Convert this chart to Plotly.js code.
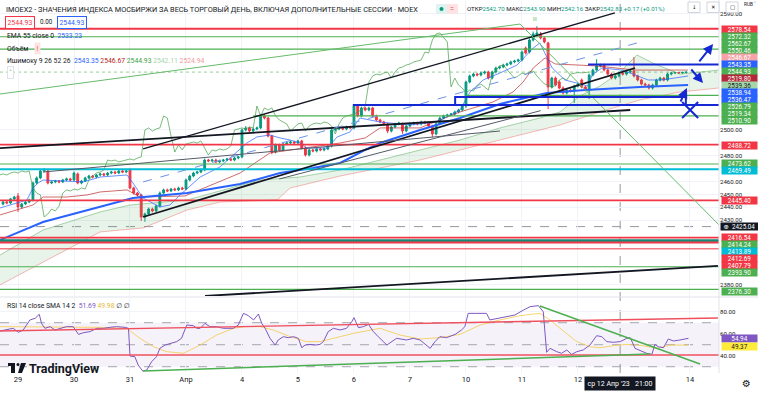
<!DOCTYPE html>
<html><head><meta charset="utf-8">
<script src="https://cdn.plot.ly/plotly-3.0.1.min.js"></script>
<style>html,body{margin:0;padding:0;background:#fff;}#chart{width:758px;height:394px;}</style>
</head><body><div id="chart"></div>
<script>
// ---------------- DATA ----------------
const dayTickIdx = [0,15,30,45,60,75,90,105,120,135,150,180];
const dayLabels = ['29','30','31','Апр','4','5','6','7','10','11','12','14'];
const firstBar = -4;
const openP = [
2442.6,2444.1,2443.4,2446.5,
2448.8,2440.3,2442.6,2444.1,2445.7,2458.9,2462.8,2468.2,2468.2,2458.9,
2459.7,2460.4,2459.7,2461.2,2462.0,2461.2,2465.9,2458.9,2460.4,2462.8,
2464.3,2463.5,2465.1,2465.9,2465.1,2466.6,2467.4,2466.6,2468.2,2467.4,
2469.0,2455.0,2451.1,2449.6,2432.5,2434.8,2438.7,2437.2,2441.0,2451.1,
2453.5,2452.7,2454.2,2453.5,2455.0,2454.2,2461.2,2464.3,2466.6,2467.4,
2469.0,2476.7,2476.0,2476.7,2475.2,2476.0,2476.7,2477.5,2476.7,2478.3,
2479.1,2500.0,2501.6,2499.2,2500.8,2501.6,2510.9,2509.3,2495.3,2482.9,
2488.4,2484.5,2489.1,2489.9,2490.7,2489.9,2491.5,2486.0,2480.6,2484.5,
2483.7,2485.3,2484.5,2485.3,2487.6,2500.0,2500.8,2501.6,2500.8,2502.3,
2501.6,2518.6,2510.9,2517.1,2515.5,2517.1,2510.9,2507.8,2506.2,2504.7,
2499.2,2502.3,2504.7,2504.7,2499.2,2503.1,2504.7,2505.4,2504.7,2506.2,
2505.4,2503.1,2496.9,2504.7,2509.3,2510.9,2511.6,2512.4,2514.0,2515.5,
2518.6,2537.2,2541.9,2543.4,2542.7,2544.2,2545.0,2540.3,2545.0,2548.1,
2548.9,2550.4,2551.2,2552.8,2553.5,2554.3,2563.6,2560.5,2569.8,2573.7,
2574.5,2571.4,2567.5,2533.4,2540.3,2537.2,2532.6,2528.7,2531.0,2530.3,
2534.1,2538.8,2533.4,2531.0,2542.7,2546.5,2549.7,2550.4,2546.5,2543.4,
2540.3,2541.9,2544.2,2543.4,2545.0,2545.8,2541.9,2538.8,2535.7,2534.9,
2532.6,2534.9,2538.8,2540.3,2538.8,2543.4,2544.2,2544.6,2544.3,2544.7];
const highP = [
2445.0,2445.0,2447.3,2449.0,
2451.1,2443.5,2445.0,2446.6,2460.0,2464.0,2469.5,2470.5,2469.4,2460.6,
2461.3,2461.2,2462.1,2463.0,2462.9,2467.8,2467.0,2461.3,2463.7,2465.2,
2465.1,2466.0,2466.8,2466.8,2467.5,2468.3,2468.3,2469.1,2469.1,2469.0,
2470.3,2456.0,2452.0,2450.5,2435.8,2439.8,2439.8,2442.0,2452.3,2454.5,
2454.5,2455.1,2455.2,2456.0,2456.0,2462.3,2465.3,2467.6,2468.4,2470.0,
2477.8,2477.6,2477.7,2477.7,2476.9,2477.6,2478.4,2478.4,2479.2,2480.0,
2501.1,2503.0,2502.5,2501.8,2502.6,2512.0,2512.3,2510.4,2496.3,2489.5,
2489.4,2490.2,2490.9,2491.8,2491.6,2492.5,2492.4,2487.0,2485.6,2485.4,
2486.3,2486.2,2486.2,2488.6,2501.2,2501.8,2502.6,2502.5,2503.3,2503.2,
2519.7,2520.0,2518.2,2518.0,2518.1,2518.0,2511.9,2508.7,2507.1,2505.6,
2503.3,2505.6,2506.4,2505.7,2504.0,2505.7,2506.4,2506.3,2507.2,2507.1,
2506.3,2504.0,2505.8,2510.3,2511.9,2512.6,2513.3,2515.0,2516.5,2519.6,
2538.3,2543.0,2544.5,2544.4,2545.2,2546.0,2546.0,2546.0,2549.1,2549.9,
2551.4,2552.2,2553.8,2554.5,2555.3,2561.6,2564.8,2571.0,2576.4,2580.5,
2576.0,2572.4,2568.5,2541.2,2541.5,2538.5,2533.8,2532.0,2532.1,2535.1,
2536.7,2539.9,2534.4,2543.8,2547.6,2555.0,2551.5,2551.4,2547.5,2544.5,
2542.9,2545.2,2545.2,2546.0,2546.7,2556.6,2542.9,2539.8,2536.7,2535.9,
2535.9,2539.8,2541.3,2541.2,2544.4,2545.1,2545.2,2545.1,2545.2,2545.3];
const lowP = [
2441.5,2442.4,2442.5,2445.6,
2436.4,2439.2,2441.7,2443.2,2444.6,2457.8,2461.8,2467.1,2457.8,2458.0,
2458.7,2458.7,2458.8,2460.2,2460.3,2460.1,2457.9,2457.9,2459.5,2461.9,
2462.6,2462.6,2464.2,2464.2,2464.2,2465.7,2465.7,2465.7,2466.5,2466.5,
2453.8,2450.0,2448.4,2429.4,2428.8,2433.8,2436.1,2436.3,2440.0,2450.2,
2451.8,2451.8,2452.6,2452.6,2453.3,2453.3,2460.2,2463.3,2465.6,2466.5,
2468.0,2475.0,2475.1,2474.3,2474.3,2475.0,2475.8,2475.8,2475.8,2477.3,
2478.0,2498.9,2498.0,2498.2,2499.8,2500.6,2508.2,2494.3,2481.2,2481.8,
2483.4,2483.5,2488.1,2488.9,2488.9,2488.8,2485.0,2479.4,2479.5,2482.7,
2482.6,2483.5,2483.5,2484.3,2486.5,2498.9,2499.8,2499.8,2499.8,2500.6,
2500.5,2509.8,2509.9,2514.5,2514.5,2509.8,2506.8,2505.2,2503.6,2497.5,
2498.1,2501.3,2503.6,2497.0,2498.2,2502.1,2503.6,2503.6,2503.6,2504.4,
2502.0,2494.5,2495.8,2503.7,2508.3,2509.9,2510.6,2511.4,2513.0,2514.5,
2517.0,2536.2,2540.8,2541.6,2541.6,2543.1,2539.2,2539.2,2544.0,2547.1,
2547.9,2549.4,2550.2,2551.8,2552.5,2553.2,2558.6,2559.4,2568.7,2572.6,
2570.3,2567.2,2516.3,2532.3,2533.8,2531.5,2527.6,2527.6,2529.2,2521.0,
2533.0,2532.3,2529.9,2524.0,2541.6,2545.4,2548.6,2545.4,2542.3,2539.2,
2539.2,2540.8,2542.3,2542.3,2544.0,2540.8,2537.7,2534.6,2533.8,2531.5,
2531.4,2533.8,2537.7,2537.7,2537.7,2542.3,2543.4,2543.5,2543.5,2543.9];
const closeP = [
2444.1,2443.4,2446.5,2448.0,
2440.3,2442.6,2444.1,2445.7,2458.9,2462.8,2468.2,2469.0,2458.9,2459.7,
2460.4,2459.7,2461.2,2462.0,2461.2,2466.6,2458.9,2460.4,2462.8,2464.3,
2463.5,2465.1,2465.9,2465.1,2466.6,2467.4,2466.6,2468.2,2467.4,2468.2,
2455.0,2451.1,2449.6,2432.5,2434.8,2438.7,2437.2,2441.0,2451.1,2453.5,
2452.7,2454.2,2453.5,2455.0,2454.2,2461.2,2464.3,2466.6,2467.4,2469.0,
2476.7,2476.0,2476.7,2475.2,2476.0,2476.7,2477.5,2476.7,2478.3,2479.1,
2500.0,2501.6,2499.2,2500.8,2501.6,2510.9,2509.3,2495.3,2482.9,2488.4,
2484.5,2489.1,2489.9,2490.7,2489.9,2491.5,2486.0,2480.6,2484.5,2483.7,
2485.3,2484.5,2485.3,2487.6,2500.0,2500.8,2501.6,2500.8,2502.3,2501.6,
2518.6,2510.9,2517.1,2515.5,2517.1,2510.9,2507.8,2506.2,2504.7,2499.2,
2502.3,2504.7,2505.4,2499.2,2503.1,2504.7,2505.4,2504.7,2506.2,2505.4,
2503.1,2496.9,2504.7,2509.3,2510.9,2511.6,2512.4,2514.0,2515.5,2518.6,
2537.2,2541.9,2543.4,2542.7,2544.2,2545.0,2540.3,2545.0,2548.1,2548.9,
2550.4,2551.2,2552.8,2553.5,2554.3,2560.5,2559.7,2569.8,2574.5,2575.3,
2571.4,2568.3,2533.4,2540.3,2534.9,2532.6,2528.7,2531.0,2530.3,2534.1,
2535.7,2533.4,2531.0,2542.7,2546.5,2549.7,2550.4,2546.5,2543.4,2540.3,
2541.9,2544.2,2543.4,2545.0,2545.8,2541.9,2538.8,2535.7,2534.9,2532.6,
2534.9,2538.8,2540.3,2538.8,2543.4,2544.2,2544.6,2544.3,2544.7,2544.9];

const emaX = [-4.8,6.7,30.8,45.3,59.5,70.2,79.0,86.3,93.0,97.0,107.7,118.4,129.1,141.7,151.9,166.6,179.5];
const emaV = [2414.7,2428.6,2447.2,2451.1,2458.1,2466.6,2470.5,2474.4,2484.5,2489.9,2500.0,2509.3,2520.2,2528.7,2531.0,2533.4,2534.9];
const tenkanX = [-4.8,-2.1,2.4,4.0,5.4,6.7,17.4,22.0,29.2,30.8,33.5,38.0,40.7,43.4,48.8,54.1,61.3,64.0,67.5,70.2,72.9,75.5,77.4,82.8,85.5,88.9,91.6,97.0,105.0,112.2,115.7,118.4,121.1,124.6,129.1,133.7,138.0,139.8,143.1,146.5,152.7,153.8,156.4,161.8,165.3,168.8,172.5,179.5];
const tenkanV = [2439.5,2441.8,2445.7,2455.0,2458.9,2461.2,2459.7,2463.5,2465.1,2458.9,2447.2,2440.3,2441.8,2449.6,2463.5,2471.3,2489.9,2494.6,2496.1,2493.8,2492.2,2489.9,2486.0,2486.0,2494.6,2498.4,2509.3,2506.2,2503.9,2506.2,2511.6,2515.5,2529.5,2538.8,2544.2,2550.4,2563.6,2567.5,2548.1,2538.8,2534.1,2542.7,2548.1,2546.5,2542.7,2538.8,2538.8,2541.9];
const kijunX = [-4.8,-0.3,4.0,6.7,13.1,18.5,22.0,29.2,32.7,44.7,59.5,67.5,72.9,86.3,93.0,97.0,107.7,118.4,127.2,132.6,135.3,138.0,141.2,143.9,155.0,165.3,179.5];
const kijunV = [2434.1,2437.9,2441.8,2448.0,2448.0,2449.6,2451.9,2453.5,2448.0,2448.8,2466.6,2482.2,2484.5,2489.9,2493.8,2501.6,2501.6,2514.0,2521.7,2529.5,2537.2,2548.1,2555.9,2551.2,2549.7,2546.5,2546.5];
const senkouAX = [-4.8,6.7,22.0,30.0,45.3,56.8,64.8,75.5,86.3,97.0,107.7,118.4,129.1,139.8,145.2,150.5,155.9,161.3,165.8,170.6,177.3,187.8];
const senkouAV = [2403.0,2422.4,2436.4,2441.8,2445.7,2455.0,2461.2,2463.5,2469.0,2476.7,2484.5,2492.2,2501.6,2509.3,2514.0,2526.4,2534.1,2545.0,2558.2,2551.2,2543.4,2546.5];
const senkouBX = [-4.8,6.7,22.0,33.5,45.3,54.1,69.4,72.9,86.3,97.0,107.7,118.4,129.1,139.8,145.2,155.9,166.6,177.3,187.8];
const senkouBV = [2379.8,2397.6,2420.9,2424.0,2437.9,2444.1,2445.7,2455.0,2464.3,2470.5,2476.7,2484.5,2492.2,2500.0,2503.9,2514.0,2523.3,2529.5,2532.6];

const rsiX = [-4.8,-3.0,-1.3,0.1,1.4,3.2,4.6,5.7,6.3,7.2,8.6,9.9,11.2,13.0,14.8,16.2,17.5,19.3,21.1,22.9,24.6,26.4,28.7,29.6,30.0,31.3,32.2,33.4,34.5,35.8,37.1,38.0,39.4,40.7,42.5,43.8,44.7,45.2,47.0,47.9,48.8,50.1,51.4,53.2,55.0,57.7,59.0,60.4,61.7,63.1,64.4,65.3,66.2,67.5,68.9,69.7,71.1,72.4,73.8,75.1,76.0,76.9,78.2,79.6,80.9,81.8,83.1,84.5,86.3,88.0,89.4,90.0,91.2,92.5,93.9,95.2,96.5,
98.8,101.4,104.1,105.9,107.7,110.4,111.7,113.0,114.8,117.1,118.8,119.7,120.6,122.9,125.5,126.4,127.8,129.1,130.9,133.1,135.4,137.2,139.4,140.7,141.6,142.5,144.3,145.6,147.0,148.3,149.7,151.4,153.2,155.0,156.4,157.7,159.5,161.3,163.1,164.0,165.3,167.1,168.4,169.8,170.6,171.5,172.9,174.2,175.6,177.3,179.6];
const rsiV = [62.5,63.4,64.9,61.3,63.4,72.5,74.0,77.6,69.4,64.9,66.4,63.4,64.9,66.4,66.4,59.4,60.9,61.9,64.9,64.9,65.8,66.4,65.8,64.9,39.7,39.1,31.5,26.1,27.0,34.6,39.1,46.7,49.7,51.2,52.8,55.8,64.9,67.9,67.3,64.9,64.9,69.4,66.4,66.4,64.9,64.9,67.9,78.5,76.4,72.5,77.9,69.4,64.9,55.8,49.7,54.3,57.3,56.4,57.3,55.8,47.3,49.7,50.3,49.7,50.3,52.8,61.9,64.9,63.4,64.9,70.9,74.6,65.5,66.4,68.5,61.9,57.3,
49.7,55.8,54.3,55.8,54.3,46.7,52.8,57.3,56.4,59.4,63.4,66.4,78.5,78.5,78.5,72.5,73.4,74.0,75.5,77.0,81.5,84.6,85.5,80.0,43.1,46.7,43.7,42.2,45.2,41.2,43.7,45.2,49.7,58.2,57.3,52.8,52.2,52.8,55.8,56.4,46.7,43.7,42.2,41.2,50.3,48.2,47.3,55.2,53.4,54.3,55.8];
const smaX = [-4.8,4.1,13.0,21.9,29.1,32.7,36.3,39.8,44.3,48.8,53.2,57.7,60.8,64.8,68.4,72.9,77.3,80.9,84.5,89.8,97.0,102.3,107.7,113.0,118.4,123.8,129.1,134.5,139.8,142.5,145.2,149.7,153.2,155.9,159.5,163.1,167.5,171.1,174.7,179.6];
const smaV = [66.4,66.4,66.4,65.8,64.9,55.8,48.2,43.7,42.2,49.7,58.8,64.9,66.4,66.4,63.4,57.3,52.8,52.8,55.8,60.3,64.9,58.8,55.2,56.4,59.4,67.9,72.5,76.4,78.5,72.5,64.9,52.8,48.2,47.3,49.1,50.3,49.1,46.7,49.7,49.7];

// horizontal levels
const levelsRed = [2578.54, 2488.72, 2445.40, 2416.54, 2412.69, 2407.79];
const levelsGreen = [2572.32, 2562.67, 2473.62, 2393.90, 2376.30];
const levelsTeal = [2414.24];
const levelsCyan = [2469.49, 2413.89];
const partialGreen = [[120, 2526.79], [63, 2510.90], [89.7, 2519.34]];
const lastPrice = 2544.93;
const crossPrice = 2425.04, crossBar = 161.3;
// drawings [x0, y0, x1, y1]
const blackLines = [[-4.82,2486.0,164.0,2515.5],[33.5,2485.3,159.9,2590.8],[33.5,2432.5,165.3,2548.1],[50.1,2371.2,187.5,2394.5]];
const grayLines = [[6.7,2467.4,129.1,2499.2],[70,2462.0,140,2515.0]];
const greenPolyX = [-4.82,134.5,187.8];
const greenPolyY = [2527.9,2582.2,2426.3];
const dashedBlue = [33.5,2459.7,165.8,2567.5];
const blueHLines = [[152.7,187.8,2550.8],[89.7,187.8,2519.4]];
const blueRect = [117.1,178.9,2519.4,2525.6];
const blueArrows = [[182.2,2552.0,186.2,2566.7],[180.0,2548.1,183.5,2536.5],[177.3,2520.9,179.2,2532.6]];
const blueCross = [[177.9,2521.7,182.2,2509.3],[182.2,2521.7,177.9,2509.3]];
const rsiRedLine = [-4.82,62.5,187.5,74.3];
const rsiRedLevel = 40.6;
const rsiGreenLines = [[33.5,26.1,169.3,41.5],[139.8,85.2,182.7,32.5]];
const rsiBands = [30, 50, 70];

const priceTicks = [2590, 2500, 2480, 2460, 2450, 2440, 2430, 2380];
const rsiTicks = [40, 60, 80];
const tagTexts = ['2578.54','2572.32','2562.67','2550.46','2546.67','2543.35','2544.93','2519.80','2539.36','2538.94','2536.47','2526.79','2519.34','2510.90','2488.72','2473.62','2469.49','2445.40','⊕  2425.04','2416.54','2414.24','2413.89','2412.69','2407.79','2393.90','2376.30'];
const rsiTagTexts = ['54.94','49.37'];

// ---------------- STYLE / LAYOUT ----------------
const W = 758, H = 394;
const px = x => x / W, py = y => 1 - y / H;
const FF = 'Roboto, "Noto Sans", "DejaVu Sans", sans-serif';
const tagBg = ['#f23645','#4caf50','#4caf50','#4caf50','#f5a3a8','#2962ff','#4caf50','#b2283a','#a5d6a7','#2962ff','#2962ff','#4caf50','#4caf50','#4caf50','#f23645','#4caf50','#00bcd4','#f23645','#131722','#f23645','#4caf50','#00bcd4','#f23645','#f23645','#4caf50','#4caf50'];
const tagY = [29.5,36.8,43.8,50.8,57.8,64.8,71.8,78.8,85.8,92.8,99.8,107,114,121,145,163,170,200.7,226.3,237.2,244.2,251.2,258.5,265.5,272.5,291.2];
const rsiTagBg = ['#7e57c2','#ffeb3b'];
const rsiTagFg = ['#ffffff','#131722'];
const rsiTagY = [338,346];

const barIdx = [];
for (let k = 0; k < closeP.length; k++) barIdx.push(firstBar + k);
const chikouX = barIdx.map(v => v - 26);

const XR = [-4.822, 187.78];
const traces = [
  {x: senkouBX, y: senkouBV, type:'scatter', mode:'lines', line:{color:'rgba(239,83,80,0.4)', width:1}, xaxis:'x', yaxis:'y'},
  {x: senkouAX, y: senkouAV, type:'scatter', mode:'lines', fill:'tonexty', fillcolor:'rgba(67,160,71,0.12)', line:{color:'rgba(67,160,71,0.45)', width:1}, xaxis:'x', yaxis:'y'},
  {x: chikouX, y: closeP, type:'scatter', mode:'lines', line:{color:'rgba(67,160,71,0.7)', width:1}, xaxis:'x', yaxis:'y'},
  {x: kijunX, y: kijunV, type:'scatter', mode:'lines', line:{color:'rgba(183,28,28,0.65)', width:1}, xaxis:'x', yaxis:'y'},
  {type:'candlestick', x: barIdx, open: openP, high: highP, low: lowP, close: closeP, xaxis:'x', yaxis:'y',
   increasing:{line:{color:'#089981', width:1}, fillcolor:'#089981'},
   decreasing:{line:{color:'#f23645', width:1}, fillcolor:'#f23645'}, whiskerwidth:0},
  {x: emaX, y: emaV, type:'scatter', mode:'lines', line:{color:'#2962ff', width:2}, xaxis:'x', yaxis:'y'},
  {x: tenkanX, y: tenkanV, type:'scatter', mode:'lines', line:{color:'rgba(41,98,255,0.7)', width:1}, xaxis:'x', yaxis:'y'},
  {x: smaX, y: smaV, type:'scatter', mode:'lines', line:{color:'rgba(247,201,72,0.8)', width:1}, xaxis:'x2', yaxis:'y2'},
  {x: rsiX, y: rsiV, type:'scatter', mode:'lines', line:{color:'#7e57c2', width:1}, xaxis:'x2', yaxis:'y2'}
];

const shapes = [];
const hl = (y, color, width, dash) => shapes.push({type:'line', xref:'x domain', yref:'y', x0:0, x1:1, y0:y, y1:y, line:{color, width, dash: dash||'solid'}, layer:'above'});
shapes.push({type:'rect', xref:'x2 domain', yref:'y2', x0:0, x1:1, y0:rsiBands[0], y1:rsiBands[2], fillcolor:'rgba(126,87,194,0.08)', line:{width:0}, layer:'below'});
rsiBands.forEach(v => shapes.push({type:'line', xref:'x2 domain', yref:'y2', x0:0, x1:1, y0:v, y1:v, line:{color:'#a3a6af', width:1, dash:'dash'}, layer:'below'}));
shapes.push({type:'line', xref:'x', yref:'paper', x0:crossBar, x1:crossBar, y0:py(373), y1:1, line:{color:'#9598a1', width:1, dash:'dash'}, layer:'below'});
shapes.push({type:'line', xref:'x domain', yref:'y', x0:0, x1:1, y0:crossPrice, y1:crossPrice, line:{color:'#9598a1', width:1, dash:'dash'}, layer:'below'});
shapes.push({type:'line', xref:'x domain', yref:'y', x0:0, x1:1, y0:lastPrice, y1:lastPrice, line:{color:'rgba(76,175,80,0.6)', width:1, dash:'dot'}, layer:'below'});
levelsGreen.forEach(v => hl(v, '#4caf50', 1.2));
levelsCyan.forEach(v => hl(v, '#00bcd4', 2));
levelsTeal.forEach(v => hl(v, '#138a72', 2.5));
levelsRed.forEach((v, k) => hl(v, '#f23645', k === 5 ? 1 : 1.8));
partialGreen.forEach(p => shapes.push({type:'line', xref:'x', yref:'y', x0:p[0], x1:XR[1], y0:p[1], y1:p[1], line:{color:'#4caf50', width:1.2}, layer:'above'}));
blackLines.forEach((l, k) => shapes.push({type:'line', xref:'x', yref:'y', x0:l[0], y0:l[1], x1:l[2], y1:l[3], line:{color:'#131722', width: k === 1 ? 1.3 : 1.8}, layer:'above'}));
grayLines.forEach(l => shapes.push({type:'line', xref:'x', yref:'y', x0:l[0], y0:l[1], x1:l[2], y1:l[3], line:{color:'#555a66', width:1}, layer:'above'}));
shapes.push({type:'line', xref:'x', yref:'y', x0:dashedBlue[0], y0:dashedBlue[1], x1:dashedBlue[2], y1:dashedBlue[3], line:{color:'#6b93e8', width:1, dash:'dash'}, layer:'above'});
for (let k = 0; k < greenPolyX.length - 1; k++) shapes.push({type:'line', xref:'x', yref:'y', x0:greenPolyX[k], y0:greenPolyY[k], x1:greenPolyX[k+1], y1:greenPolyY[k+1], line:{color:'#66bb6a', width:1}, layer:'above'});
blueHLines.forEach(b => shapes.push({type:'line', xref:'x', yref:'y', x0:b[0], x1:b[1], y0:b[2], y1:b[2], line:{color:'#1428d4', width:2.2}, layer:'above'}));
shapes.push({type:'rect', xref:'x', yref:'y', x0:blueRect[0], x1:blueRect[1], y0:blueRect[2], y1:blueRect[3], line:{color:'#1428d4', width:2}, fillcolor:'rgba(0,0,0,0)', layer:'above'});
blueCross.forEach(l => shapes.push({type:'line', xref:'x', yref:'y', x0:l[0], y0:l[1], x1:l[2], y1:l[3], line:{color:'#1428d4', width:2}, layer:'above'}));
shapes.push({type:'line', xref:'x2', yref:'y2', x0:rsiRedLine[0], y0:rsiRedLine[1], x1:rsiRedLine[2], y1:rsiRedLine[3], line:{color:'#f0505e', width:1.4}, layer:'above'});
shapes.push({type:'line', xref:'x2 domain', yref:'y2', x0:0, x1:1, y0:rsiRedLevel, y1:rsiRedLevel, line:{color:'#f0505e', width:1.4}, layer:'above'});
rsiGreenLines.forEach(l => shapes.push({type:'line', xref:'x2', yref:'y2', x0:l[0], y0:l[1], x1:l[2], y1:l[3], line:{color:'#4caf50', width:1.4}, layer:'above'}));
shapes.push({type:'line', xref:'paper', yref:'paper', x0:0, x1:1, y0:py(297), y1:py(297), line:{color:'#e0e3eb', width:1}});
shapes.push({type:'line', xref:'paper', yref:'paper', x0:px(719), x1:px(719), y0:py(373), y1:1, line:{color:'#e0e3eb', width:1}});
// TradingView logo mark
shapes.push({type:'rect', xref:'paper', yref:'paper', x0:px(8), x1:px(15), y0:py(366), y1:py(363), fillcolor:'#131722', line:{width:0}});
shapes.push({type:'rect', xref:'paper', yref:'paper', x0:px(11), x1:px(15), y0:py(373), y1:py(363), fillcolor:'#131722', line:{width:0}});
shapes.push({type:'circle', xref:'paper', yref:'paper', x0:px(16.5), x1:px(19.5), y0:py(366), y1:py(363), fillcolor:'#131722', line:{width:0}});
shapes.push({type:'path', xref:'paper', yref:'paper', path:`M ${px(21)} ${py(363)} L ${px(26)} ${py(363)} L ${px(22)} ${py(373)} L ${px(18)} ${py(373)} Z`, fillcolor:'#131722', line:{width:0}});
// legend icon boxes (top)
shapes.push({type:'rect', xref:'paper', yref:'paper', x0:px(436), x1:px(447), y0:py(14), y1:py(4), fillcolor:'#dff3ef', line:{width:0}});
shapes.push({type:'rect', xref:'paper', yref:'paper', x0:px(447), x1:px(458), y0:py(14), y1:py(4), fillcolor:'#fde3e4', line:{width:0}});
shapes.push({type:'circle', xref:'paper', yref:'paper', x0:px(439.5), x1:px(443.5), y0:py(11), y1:py(7), fillcolor:'#089981', line:{width:0}});
// top-right buttons
[688, 707, 726].forEach(x => shapes.push({type:'rect', xref:'paper', yref:'paper', x0:px(x), x1:px(x+12), y0:py(12.5), y1:py(2), fillcolor:'#fff', line:{color:'#d1d4dc', width:1}}));

const ann = [];
const txt = (x, y, text, size, color, extra) => ann.push(Object.assign({xref:'paper', yref:'paper', x:px(x), y:py(y), text, showarrow:false, xanchor:'left', yanchor:'middle', font:{family:FF, size:size||7.5, color:color||'#131722'}}, extra||{}));
const G = s => `<span style="color:#089981">${s}</span>`;
txt(4, 9, 'IMOEX2 - ЗНАЧЕНИЯ ИНДЕКСА МОСБИРЖИ ЗА ВЕСЬ ТОРГОВЫЙ ДЕНЬ, ВКЛЮЧАЯ ДОПОЛНИТЕЛЬНЫЕ СЕССИИ · MOEX', 7.35);
ann.push({xref:'paper', yref:'paper', x:px(452.5), y:py(9), text:'=', showarrow:false, xanchor:'center', yanchor:'middle', font:{family:FF, size:7, color:'#f23645'}});
txt(465, 9, 'ОТКР' + G('2542.70') + ' МАКС' + G('2543.90') + ' МИН' + G('2542.16') + ' ЗАКР' + G('2542.83 +0.17 (+0.01%)'), 6.1);
txt(531, 19.5, 'III', 4.5, '#4caf50');
txt(5, 22, '2544.93', 6.8, '#f23645', {bordercolor:'#f23645', borderwidth:1, borderpad:1.5, bgcolor:'#fff'});
txt(38, 22, '0.00', 6.3, '#131722');
txt(57, 22, '2544.93', 6.8, '#2962ff', {bordercolor:'#2962ff', borderwidth:1, borderpad:1.5, bgcolor:'#fff'});
txt(5, 36, 'EMA 55 close 0  <span style="color:#2962ff">2533.23</span>', 6.8);
txt(5, 49, 'Объём', 6.8);
txt(34, 49, '!', 6.3, '#f23645', {bgcolor:'#fde3e4', borderpad:1.5});
txt(5, 61, 'Ишимоку 9 26 52 26  <span style="color:#2962ff">2543.35</span> <span style="color:#b71c1c">2546.67</span> <span style="color:#43a047">2544.93</span> <span style="color:#a5d6a7">2542.11</span> <span style="color:#ef9a9a">2524.94</span>', 6.8);
txt(7, 73, '˄', 7, '#131722', {bordercolor:'#e0e3eb', borderwidth:1, borderpad:1.5, bgcolor:'#fff'});
txt(5, 306, 'RSI 14 close SMA 14 2  <span style="color:#7e57c2">51.69</span> <span style="color:#e6b93a">49.98</span> ∅ ∅', 6.8);
txt(27, 368, '<b>TradingView</b>', 12.5, '#131722');
[['↓',694],['✕',713],['▢',732]].forEach(b => ann.push({xref:'paper', yref:'paper', x:px(b[1]), y:py(7.3), text:b[0], showarrow:false, xanchor:'center', yanchor:'middle', font:{family:'"DejaVu Sans", sans-serif', size:5.5, color:'#131722'}}));
txt(742, 4.5, 'RUB ˅', 4.8, '#131722');
txt(740, 383, '⚙', 10, '#131722');
ann.push({xref:'x2', yref:'paper', x:crossBar, y:py(383), text:"ср 12 Апр '23   21:00", showarrow:false, xanchor:'center', yanchor:'middle', font:{family:FF, size:7, color:'#ffffff'}, bgcolor:'#131722', borderpad:2.5});
tagTexts.forEach((t, k) => {
  const wide = t.indexOf('⊕') === 0;
  ann.push({xref:'paper', yref:'paper', x:px(wide ? 719.5 : 720.5), y:py(tagY[k]), text:t, showarrow:false, xanchor:'left', yanchor:'middle',
    font:{family:FF, size:6.3, color: tagBg[k] === '#a5d6a7' ? '#131722' : '#ffffff'}, bgcolor:tagBg[k], width: wide ? 37 : 35, height:7, borderpad:0, align:'center'});
});
rsiTagTexts.forEach((t, k) => ann.push({xref:'paper', yref:'paper', x:px(720.5), y:py(rsiTagY[k]), text:t, showarrow:false, xanchor:'left', yanchor:'middle', font:{family:FF, size:6.3, color:rsiTagFg[k]}, bgcolor:rsiTagBg[k], width:35, height:7, borderpad:0, align:'center'}));
blueArrows.forEach(a => ann.push({xref:'x', yref:'y', axref:'x', ayref:'y', x:a[2], y:a[3], ax:a[0], ay:a[1], text:'', showarrow:true, arrowhead:2, arrowsize:1, arrowwidth:2, arrowcolor:'#1428d4'}));

const layout = {
  width: W, height: H, margin:{l:0, r:0, t:0, b:0},
  paper_bgcolor:'#ffffff', plot_bgcolor:'#ffffff', showlegend:false, hovermode:false, dragmode:false,
  font:{family:FF, size:7.5, color:'#131722'},
  xaxis:{domain:[0, 719/W], range:XR, anchor:'y', showticklabels:false, tickvals:dayTickIdx, showgrid:true, gridcolor:'#f0f3fa', zeroline:false, showline:false, ticks:'', rangeslider:{visible:false}, fixedrange:true},
  xaxis2:{domain:[0, 719/W], range:XR, anchor:'y2', matches:'x', tickvals:dayTickIdx, ticktext:dayLabels, showgrid:true, gridcolor:'#f0f3fa', zeroline:false, showline:false, ticks:'', tickfont:{family:FF, size:7.5, color:'#131722'}, fixedrange:true},
  yaxis:{domain:[py(296), 1], range:[2371.2, 2600.85], side:'right', anchor:'x', tickvals:priceTicks, ticktext:priceTicks.map(v => v.toFixed(2)), showgrid:true, gridcolor:'#f0f3fa', zeroline:false, showline:false, ticks:'', tickfont:{family:FF, size:6.1, color:'#131722'}, fixedrange:true},
  yaxis2:{domain:[py(373), py(298)], range:[24.3, 92.45], side:'right', anchor:'x2', tickvals:rsiTicks, ticktext:rsiTicks.map(v => v.toFixed(2)), showgrid:true, gridcolor:'#f0f3fa', zeroline:false, showline:false, ticks:'', tickfont:{family:FF, size:6.1, color:'#131722'}, fixedrange:true},
  shapes: shapes, annotations: ann
};
Plotly.newPlot('chart', traces, layout, {staticPlot:true, displayModeBar:false});
</script></body></html>
